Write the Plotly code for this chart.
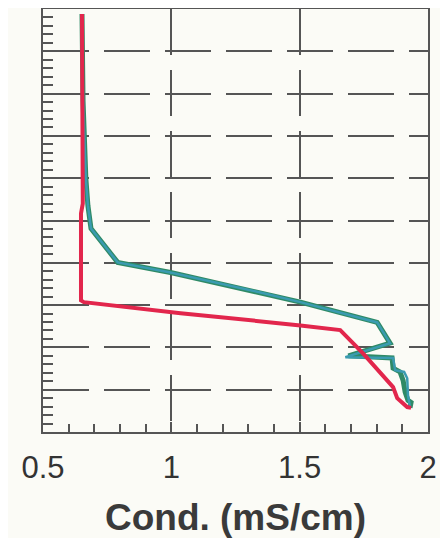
import plotly.graph_objects as go

# Conductivity (mS/cm) vs depth (unlabelled axis, top = 0)
green_x = [0.652, 0.656, 0.667, 0.675, 0.687, 0.791, 0.997, 1.347, 1.503, 1.802, 1.852, 1.678, 1.864, 1.872, 1.907, 1.919, 1.922, 1.930]
green_y = [0.12, 2.17, 4.01, 4.65, 5.19, 5.99, 6.23, 6.70, 6.93, 7.41, 7.90, 8.23, 8.25, 8.54, 8.58, 8.73, 9.13, 9.41]

teal_x = [0.652, 0.656, 0.667, 0.675, 0.687, 0.791, 0.997, 1.347, 1.503, 1.802, 1.852, 1.690, 1.860, 1.864, 1.891, 1.903, 1.911, 1.922, 1.934, 1.930]
teal_y = [0.12, 2.17, 4.01, 4.65, 5.19, 5.99, 6.23, 6.70, 6.93, 7.41, 7.90, 8.20, 8.25, 8.49, 8.58, 8.78, 9.06, 9.25, 9.30, 9.43]

red_x = [0.652, 0.652, 0.652, 0.655, 0.648, 0.648, 0.659, 1.036, 1.503, 1.658, 1.747, 1.864, 1.880, 1.919, 1.934]
red_y = [0.12, 2.17, 4.41, 4.60, 4.83, 6.89, 6.93, 7.19, 7.48, 7.59, 8.14, 8.94, 9.20, 9.41, 9.43]

x_tickvals = [0.5, 1, 1.5, 2]
x_ticktext = ["0.5", "1", "1.5", "2"]
x_title = "Cond. (mS/cm)"

fig = go.Figure()
fig.add_trace(go.Scatter(x=teal_x, y=teal_y, mode="lines",
                         line=dict(color="#2f8a66", width=5), showlegend=False))
fig.add_trace(go.Scatter(x=green_x, y=green_y, mode="lines",
                         line=dict(color="#3a9bb0", width=2.5), showlegend=False))
fig.add_trace(go.Scatter(x=red_x, y=red_y, mode="lines",
                         line=dict(color="#e2264c", width=4), showlegend=False))

# page body has an 8px margin, so the figure is sized/offset to land the plot at 43..428 x 8..432
fig.update_layout(
    width=432, height=530,
    margin=dict(l=35, r=12, t=1, b=106),
    paper_bgcolor="#fbfbf6", plot_bgcolor="#fbfbf6",
    font=dict(family="Liberation Sans, Arial, sans-serif", color="#333333"),
)
fig.update_xaxes(
    range=[0.5, 2.0], tickvals=x_tickvals, ticktext=x_ticktext,
    tickfont=dict(size=31, color="#333333"), ticklabelstandoff=7,
    title=dict(text="<b>" + x_title + "</b>", font=dict(size=37, color="#3a3a3a"), standoff=20),
    showline=True, mirror=True, linecolor="#555555", linewidth=2,
    showgrid=True, gridcolor="#555555", gridwidth=2, griddash="46px,15px",
    ticks="inside", ticklen=10, tickcolor="#555555", tickwidth=1.5,
    minor=dict(ticks="inside", dtick=0.1, ticklen=8, tickcolor="#555555", tickwidth=1.5, showgrid=False),
    zeroline=False, fixedrange=True, automargin=False,
)
fig.update_yaxes(
    range=[10, 0], dtick=1, showticklabels=False,
    showline=True, mirror=True, linecolor="#555555", linewidth=2,
    showgrid=True, gridcolor="#555555", gridwidth=2, griddash="46px,15px",
    ticks="inside", ticklen=10, tickcolor="#555555", tickwidth=1.5,
    minor=dict(ticks="inside", dtick=0.2, ticklen=10, tickcolor="#555555", tickwidth=1.5, showgrid=False),
    zeroline=False, fixedrange=True, automargin=False,
)

fig.write_html("out.html")
